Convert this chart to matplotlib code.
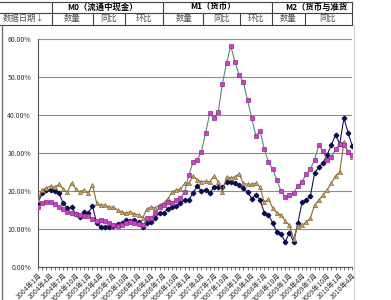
import numpy as np
import matplotlib
matplotlib.use("Agg")
import matplotlib.pyplot as plt
from matplotlib.lines import Line2D

plt.rcParams['font.family'] = ['Noto Sans CJK SC', 'DejaVu Sans']

# 月度数据 2004年1月 - 2010年4月 (%)
months = [f"{y}年{m}月" for y in range(2004, 2011) for m in range(1, 13)][:76]
tick_labels = months[::3]

navy = [16.8, 19.5, 20.3, 20.3, 20.0, 19.5, 16.8, 15.5, 15.8, 13.9,
        13.2, 14.5, 14.2, 16.0, 11.6, 10.5, 10.5, 10.5, 10.8, 11.3,
        11.6, 12.4, 12.1, 12.4, 11.8, 10.5, 11.6, 11.8, 12.9, 14.2,
        14.2, 15.3, 15.8, 16.0, 16.8, 17.6, 17.6, 19.5, 21.3, 20.0,
        20.3, 19.5, 21.0, 21.0, 21.0, 22.4, 22.4, 22.0, 21.6, 20.8,
        19.7, 18.0, 19.0, 17.6, 14.2, 13.7, 11.6, 9.2, 8.7, 6.6,
        9.0, 6.6, 11.5, 17.0, 17.6, 18.7, 24.7, 26.3, 27.4, 29.5,
        32.1, 34.8, 32.4, 39.2, 35.3, 31.8]

magenta = [15.8, 16.8, 17.1, 17.1, 16.6, 15.8, 15.3, 14.5, 14.2, 13.9,
           13.7, 13.4, 13.4, 12.6, 12.1, 12.4, 12.1, 11.6, 11.0, 10.8,
           11.0, 11.6, 11.8, 11.6, 11.3, 11.0, 12.9, 12.9, 14.2, 15.8,
           16.3, 17.1, 16.8, 17.6, 18.2, 19.7, 24.2, 27.6, 28.2, 30.3,
           35.3, 40.5, 39.2, 40.8, 48.2, 53.7, 58.2, 54.0, 50.5, 48.7,
           43.9, 39.2, 34.5, 35.8, 31.0, 27.6, 25.8, 22.9, 20.0, 18.4,
           19.0, 19.5, 21.3, 22.4, 24.5, 25.8, 28.2, 32.1, 30.5, 28.2,
           29.0, 31.0, 32.4, 32.1, 30.3, 29.5]

brown = [17.6, 20.3, 20.8, 21.3, 21.0, 21.8, 20.5, 19.7, 22.1, 20.5,
         19.7, 20.3, 19.5, 21.6, 16.8, 16.3, 16.3, 15.8, 15.8, 15.0,
         14.5, 14.2, 14.5, 14.0, 13.7, 13.0, 15.3, 15.8, 15.5, 16.3,
         16.8, 18.0, 19.7, 20.3, 20.5, 22.0, 22.0, 24.0, 23.0, 22.4,
         22.6, 22.4, 24.0, 22.4, 19.7, 23.7, 23.5, 23.7, 24.5, 22.0,
         21.8, 21.8, 22.0, 21.0, 17.0, 17.9, 15.5, 14.2, 13.7, 12.1,
         11.0, 7.4, 10.8, 11.0, 11.8, 12.9, 16.3, 17.6, 18.9, 20.3,
         22.1, 24.0, 25.0, 32.9, 30.3, 29.0]

# 表头
row1 = ["M0（流通中现金）", "M1（货币）", "M2（货币与准货"]
row2 = ["数据日期↓", "数量", "同比", "环比", "数量", "同比", "环比", "数量", "同比"]

W, H = 391, 300
fig = plt.figure(figsize=(W / 100, H / 100), dpi=100)
fig.patch.set_facecolor('white')


def fx(px):
    return px / W


def fy(py):
    return 1 - py / H


def hline(y, x0, x1, color='#404040', lw=0.8):
    fig.add_artist(Line2D([fx(x0), fx(x1)], [fy(y), fy(y)], color=color, lw=lw))


def vline(x, y0, y1, color='#404040', lw=0.8):
    fig.add_artist(Line2D([fx(x), fx(x)], [fy(y0), fy(y1)], color=color, lw=lw))


# 表格线
for y in [1.5, 12.5, 24.5]:
    hline(y, 0, 352)
for x in [52, 163, 272, 352]:
    vline(x, 1.5, 12.5)
for x in [52, 93, 125, 163, 203, 240, 272, 305, 352]:
    vline(x, 12.5, 24.5)

fig.text(fx(103), fy(7), row1[0], fontsize=6, fontweight='bold', ha='center', va='center')
fig.text(fx(213), fy(7), row1[1], fontsize=6, fontweight='bold', ha='center', va='center')
fig.text(fx(285), fy(7), row1[2], fontsize=6, fontweight='bold', ha='left', va='center')

row2_x = [3, 72, 109, 144, 184, 222, 256, 288, 328]
for i, (t, x) in enumerate(zip(row2, row2_x)):
    fig.text(fx(x), fy(18.5), t, fontsize=6, color='#505050',
             ha='left' if i == 0 else 'center', va='center')

# 图表边框
vline(1.5, 24.5, 300, color='#707070', lw=1.0)
vline(353.5, 24.5, 300, color='#d0d0d0', lw=0.8)

# 绘图区
ax = fig.add_axes([fx(38), fy(267), fx(352.3) - fx(38), (267 - 39) / H])
x = np.arange(len(navy))
ax.plot(x, navy, color='#14145a', lw=0.8, marker='D', ms=2.3,
        mfc='#0a0a50', mec='#0a0a50', zorder=3)
ax.plot(x, brown, color='#8a6a30', lw=0.8, marker='^', ms=3.0,
        mfc='#c8aa6a', mec='#8a6a30', mew=0.5, zorder=3)
ax.plot(x, magenta, color='#4f8c7c', lw=0.8, marker='s', ms=2.8,
        mfc='#d83ccf', mec='#8a2a88', mew=0.5, zorder=4)

ax.set_xlim(0, len(navy) - 1)
ax.set_ylim(0, 60)
ax.set_yticks(range(0, 61, 10))
ax.set_yticklabels([f"{v:.2f}%" for v in range(0, 61, 10)], fontsize=5, color='#333333')
ax.tick_params(axis='y', length=0, pad=5)

ax.set_xticks(range(0, len(navy), 3))
ax.set_xticklabels(tick_labels, rotation=45, ha='right', va='top',
                   rotation_mode='anchor', fontsize=5, color='#333333')
ax.set_xticks(range(len(navy)), minor=True)
ax.tick_params(axis='x', which='both', length=2, width=0.6, color='#555555', pad=1.5)

ax.grid(axis='y', color='#8c8c8c', lw=0.8)
ax.set_axisbelow(True)
for s in ['top', 'right']:
    ax.spines[s].set_visible(False)
for s in ['left', 'bottom']:
    ax.spines[s].set_color('#555555')
    ax.spines[s].set_linewidth(0.8)

fig.savefig('out.png', dpi=100)
